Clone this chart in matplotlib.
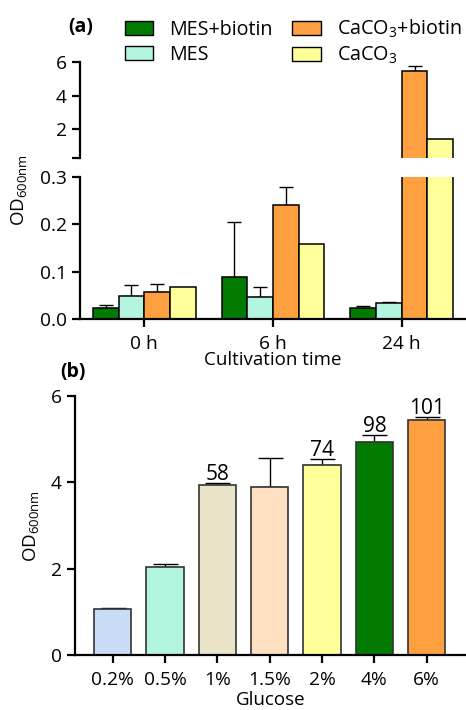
import matplotlib
matplotlib.use("Agg")
import matplotlib.pyplot as plt
from matplotlib.patches import Patch
import numpy as np

plt.rcParams['font.family'] = ['Open Sans', 'DejaVu Sans']
plt.rcParams['mathtext.fontset'] = 'custom'
plt.rcParams['mathtext.rm'] = 'Open Sans'

# ---- Panel (a) data ----
times = ["0 h", "6 h", "24 h"]
series_a = ["MES+biotin", "MES", "CaCO$_\\mathregular{3}$+biotin", "CaCO$_\\mathregular{3}$"]
colors_a = ["#007A00", "#B3F5DF", "#FFA040", "#FFFF99"]
mes_biotin = [0.024, 0.090, 0.024]
mes_biotin_err = [0.007, 0.114, 0.005]
mes = [0.048, 0.046, 0.035]
mes_err = [0.025, 0.022, 0.002]
caco3_biotin = [0.058, 0.241, 5.46]
caco3_biotin_err = [0.017, 0.038, 0.28]
caco3 = [0.067, 0.159, 1.40]
caco3_err = [0.0, 0.0, 0.0]

# ---- Panel (b) data ----
glucose = ["0.2%", "0.5%", "1%", "1.5%", "2%", "4%", "6%"]
od_b = [1.08, 2.04, 3.93, 3.89, 4.40, 4.94, 5.45]
od_b_err = [0.02, 0.07, 0.06, 0.68, 0.15, 0.16, 0.07]
colors_b = ["#C8DCF5", "#B3F5DF", "#E9E4C8", "#FFE0C0", "#FFFF99", "#007A00", "#FFA040"]
labels_b = ["", "", "58", "", "74", "98", "101"]

W, H = 466, 710
fig = plt.figure(figsize=(W / 100, H / 100), dpi=100)

def fx(px):
    return px / W

def fy(py):
    return 1 - py / H

ax_top = fig.add_axes([fx(80), fy(158), fx(386), (158 - 62) / H])
ax_low = fig.add_axes([fx(80), fy(319.3), fx(386), (319.3 - 176.7) / H])
ax_b = fig.add_axes([fx(75), fy(655.3), fx(391), (655.3 - 396) / H])

lw_sp = 1.6
tick_fs = 13.8

x = np.arange(len(times))
bw = 0.2
vals = [mes_biotin, mes, caco3_biotin, caco3]
errs = [mes_biotin_err, mes_err, caco3_biotin_err, caco3_err]
top_min = 0.27
for ax in (ax_top, ax_low):
    for i, (v, e, c) in enumerate(zip(vals, errs, colors_a)):
        xi = x + (i - 1.5) * bw
        v = np.array(v)
        e = np.array(e)
        keep = np.ones(len(v), bool) if ax is ax_low else v > top_min
        ax.bar(xi[keep], v[keep], width=bw, color=c, edgecolor="black", linewidth=1.1, zorder=2)
        m = (e > 0) & keep
        if m.any():
            ax.errorbar(xi[m], v[m], yerr=[np.zeros(m.sum()), e[m]], fmt='none',
                        ecolor='black', elinewidth=1.0, capsize=5, capthick=1.0, zorder=1)
    ax.set_xlim(-0.5, 2.5)
    for s in ["top", "right"]:
        ax.spines[s].set_visible(False)
    ax.spines["left"].set_linewidth(lw_sp)
    ax.spines["bottom"].set_linewidth(lw_sp)
    ax.tick_params(axis='both', width=lw_sp, length=6, labelsize=tick_fs, direction='out')

ax_top.set_ylim(top_min, 6)
ax_top.set_yticks([top_min, 2, 4, 6])
ax_top.set_yticklabels(["", "2", "4", "6"])
ax_top.spines["bottom"].set_visible(False)
ax_top.set_xticks([])

ax_low.set_ylim(0, 0.3)
ax_low.set_yticks([0.0, 0.1, 0.2, 0.3])
ax_low.set_yticklabels(["0.0", "0.1", "0.2", "0.3"])
ax_low.set_xticks(x)
ax_low.set_xticklabels(times)
ax_low.tick_params(axis='x', pad=5)
ax_low.set_xlabel("Cultivation time", fontsize=13.5, labelpad=-1)

fig.text(fx(20), fy(190), "OD$_\\mathregular{600nm}$", rotation=90, ha='center', va='center', fontsize=13.5)
fig.text(fx(81), fy(27), "(a)", ha='center', va='center', fontsize=14, fontweight='bold')

handles = [Patch(facecolor=c, edgecolor='black', linewidth=1.0, label=l) for c, l in zip(colors_a, series_a)]
fig.legend(handles=handles, ncol=2, loc='upper left', bbox_to_anchor=(fx(107), fy(0)),
           frameon=False, fontsize=14.2, handlelength=1.45, handleheight=0.75,
           columnspacing=1.0, handletextpad=0.8, labelspacing=0.25)

# ---- Panel (b) ----
xb = np.arange(len(glucose))
ax_b.bar(xb, od_b, width=0.714, color=colors_b, edgecolor="#333333", linewidth=1.2, zorder=2)
ax_b.errorbar(xb, od_b, yerr=[np.zeros(len(xb)), od_b_err], fmt='none', ecolor='black',
              elinewidth=1.0, capsize=9, capthick=1.0, zorder=1)
for xi, v, e, lab in zip(xb, od_b, od_b_err, labels_b):
    if lab:
        ax_b.annotate(lab, (xi, v + e), xytext=(0, -1.5), textcoords='offset points',
                      ha='center', va='bottom', fontsize=15)
ax_b.set_xlim(-0.72, 6.75)
ax_b.set_ylim(0, 6)
ax_b.set_yticks([0, 2, 4, 6])
ax_b.set_xticks(xb)
ax_b.set_xticklabels(glucose)
for s in ["top", "right"]:
    ax_b.spines[s].set_visible(False)
ax_b.spines["left"].set_linewidth(lw_sp)
ax_b.spines["bottom"].set_linewidth(lw_sp)
ax_b.tick_params(axis='both', width=lw_sp, length=6, labelsize=tick_fs, direction='out')
ax_b.tick_params(axis='x', pad=5)
ax_b.set_xlabel("Glucose", fontsize=13.5, labelpad=2)
ax_b.set_ylabel("OD$_\\mathregular{600nm}$", fontsize=13.5, labelpad=6)
fig.text(fx(73), fy(372), "(b)", ha='center', va='center', fontsize=14, fontweight='bold')

fig.savefig("out.png", dpi=100)
